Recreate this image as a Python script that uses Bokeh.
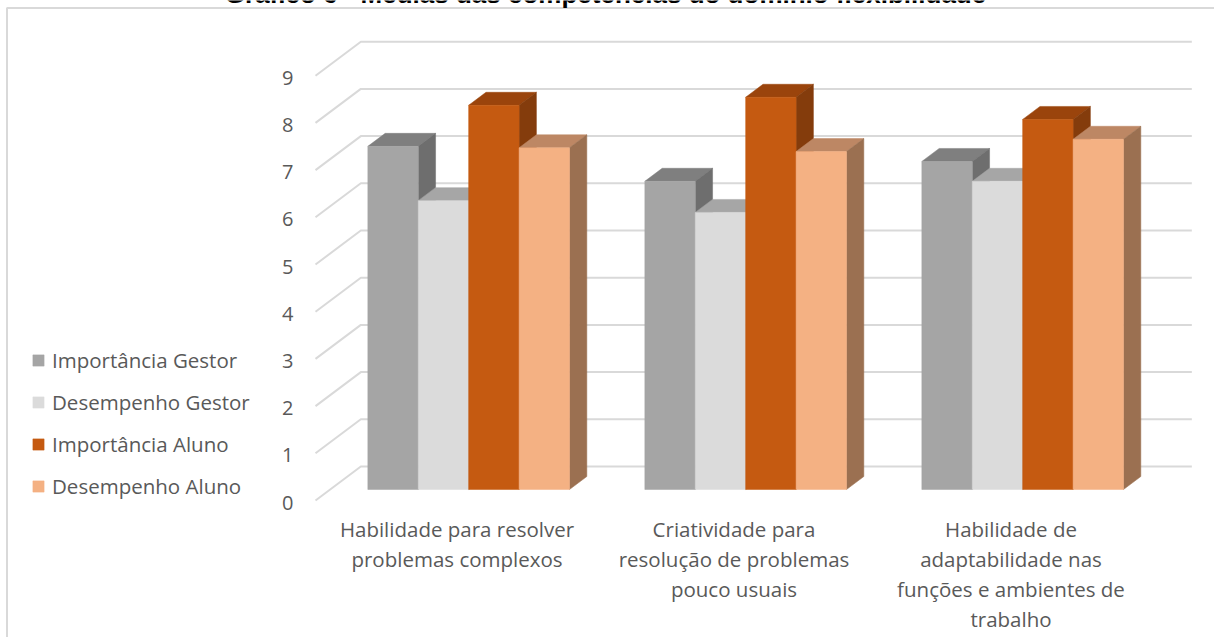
import numpy as np
from bokeh.plotting import figure
from bokeh.models import Range1d, Legend, LegendItem, ColumnDataSource
from bokeh.core.properties import value
from bokeh.embed import file_html
from bokeh.resources import INLINE

# ---------------- data ----------------
title_text = "Gráfico 6 - Médias das competências do domínio flexibilidade"
categories = [
    "Habilidade para resolver\nproblemas complexos",
    "Criatividade para\nresolução de problemas\npouco usuais",
    "Habilidade de\nadaptabilidade nas\nfunções e ambientes de\ntrabalho",
]
series_names = ["Importância Gestor", "Desempenho Gestor", "Importância Aluno", "Desempenho Aluno"]
importancia_gestor = [7.27, 6.53, 6.95]
desempenho_gestor = [6.12, 5.87, 6.53]
importancia_aluno = [8.14, 8.31, 7.84]
desempenho_aluno = [7.24, 7.16, 7.42]
y_ticks = [0, 1, 2, 3, 4, 5, 6, 7, 8, 9]
y_tick_labels = ["0", "1", "2", "3", "4", "5", "6", "7", "8", "9"]

series_values = [importancia_gestor, desempenho_gestor, importancia_aluno, desempenho_aluno]
front_colors = ["#a5a5a5", "#dbdbdb", "#c55a11", "#f4b183"]
top_colors = ["#7f7f7f", "#a6a6a6", "#9a440c", "#bd8764"]
side_colors = ["#6e6e6e", "#a0a0a0", "#843c0c", "#9b7051"]

# ---------------- layout / projection ----------------
W, H = 1214, 637
PX_X = 277.0    # pixels per category step
PX_Y = 47.2     # pixels per value unit
X0_PX = 453.5   # screen x of category 0 at the front plane
Y0_PX = 500.0   # screen y of value 0 at the front plane
DX = 1.333 / PX_X   # x shift per pixel of depth
DY = 1.0 / PX_Y     # y shift per pixel of depth
D_BAR_FRONT, D_BAR_BACK, D_WALL = 11, 24, 34
GROUP_W = 0.728
FONT = "Open Sans"


def proj(X, V, d):
    return X + d * DX, V + d * DY


def sx(px):
    return (px - X0_PX) / PX_X


def sy(py):
    return (Y0_PX - py) / PX_Y


p = figure(width=W, height=H, output_backend="svg", toolbar_location=None,
           x_range=Range1d(sx(0), sx(W)), y_range=Range1d(sy(H), sy(0)),
           x_axis_location=None, y_axis_location=None, min_border=0,
           outline_line_color=None, background_fill_color="white",
           border_fill_color="white")
p.grid.visible = False

# chart border
p.multi_line(xs=[[sx(6.5), sx(6.5), sx(1240)]], ys=[[sy(700), sy(7.5), sy(7.5)]],
             line_color="#d9d9d9", line_width=2)

# title (partially cut at the top, as in the source)
p.text(x=[sx(605)], y=[sy(-7)], text=[title_text], text_align="center",
       text_baseline="alphabetic", text_font=value("Liberation Sans"),
       text_font_style="bold", text_font_size="26px", text_color="#000000")

# gridlines: back wall + left wall diagonals
n_cat = len(categories)
gx, gy = [], []
for v in y_ticks:
    x1, y1 = proj(-0.5, v, 0)
    x2, y2 = proj(-0.5, v, D_WALL)
    x3, y3 = proj(n_cat - 0.5, v, D_WALL)
    gx.append([x1, x2, x3])
    gy.append([y1, y2, y3])
p.multi_line(xs=gx, ys=gy, line_color="#d9d9d9", line_width=2)

# tick labels
tx = [proj(-0.5, v, 0)[0] for v in y_ticks]
ty = [proj(-0.5, v, 0)[1] for v in y_ticks]
p.text(x=tx, y=ty, text=y_tick_labels, x_offset=-22, y_offset=2,
       text_align="right", text_baseline="middle", text_font=value(FONT),
       text_font_size="20px", text_color="#595959")

# bars
bw = GROUP_W / len(series_values)
legend_items = []
for k, vals in enumerate(series_values):
    xs, ys, cols = [], [], []
    lefts, rights, bottoms, tops = [], [], [], []
    for i, v in enumerate(vals):
        L = i - GROUP_W / 2 + k * bw
        R = L + bw
        # top face
        pts = [proj(L, v, D_BAR_FRONT), proj(R, v, D_BAR_FRONT),
               proj(R, v, D_BAR_BACK), proj(L, v, D_BAR_BACK)]
        xs.append([q[0] for q in pts]); ys.append([q[1] for q in pts]); cols.append(top_colors[k])
        # side face
        pts = [proj(R, 0, D_BAR_FRONT), proj(R, 0, D_BAR_BACK),
               proj(R, v, D_BAR_BACK), proj(R, v, D_BAR_FRONT)]
        xs.append([q[0] for q in pts]); ys.append([q[1] for q in pts]); cols.append(side_colors[k])
        fl = proj(L, 0, D_BAR_FRONT)
        fr = proj(R, v, D_BAR_FRONT)
        lefts.append(fl[0]); bottoms.append(fl[1]); rights.append(fr[0]); tops.append(fr[1])
    p.patches(xs=xs, ys=ys, fill_color=cols, line_color=cols, line_width=0.5)
    r = p.quad(left=lefts, right=rights, bottom=bottoms, top=tops,
               fill_color=front_colors[k], line_color=front_colors[k], line_width=0.5)
    legend_items.append(LegendItem(label=series_names[k], renderers=[r]))

# category labels
lx, ly, lt, lyo = [], [], [], []
for i, cat in enumerate(categories):
    for j, line in enumerate(cat.split("\n")):
        lx.append(i); ly.append(0.0); lt.append(line); lyo.append(28 + 30 * j)
src = ColumnDataSource(dict(x=lx, y=ly, text=lt, yo=lyo))
p.text(x="x", y="y", text="text", y_offset="yo", x_offset=3, source=src,
       text_align="center", text_baseline="middle", text_font=value(FONT),
       text_font_size="20.5px", text_color="#595959")

legend = Legend(items=legend_items, location=(31, 137), orientation="vertical",
                glyph_width=14, glyph_height=14, label_standoff=7, spacing=14,
                padding=0, margin=0, border_line_color=None, background_fill_alpha=0,
                label_text_font=FONT, label_text_font_size="20.5px",
                label_text_color="#595959")
p.add_layout(legend)

open("out.html", "w").write(file_html(p, INLINE))
